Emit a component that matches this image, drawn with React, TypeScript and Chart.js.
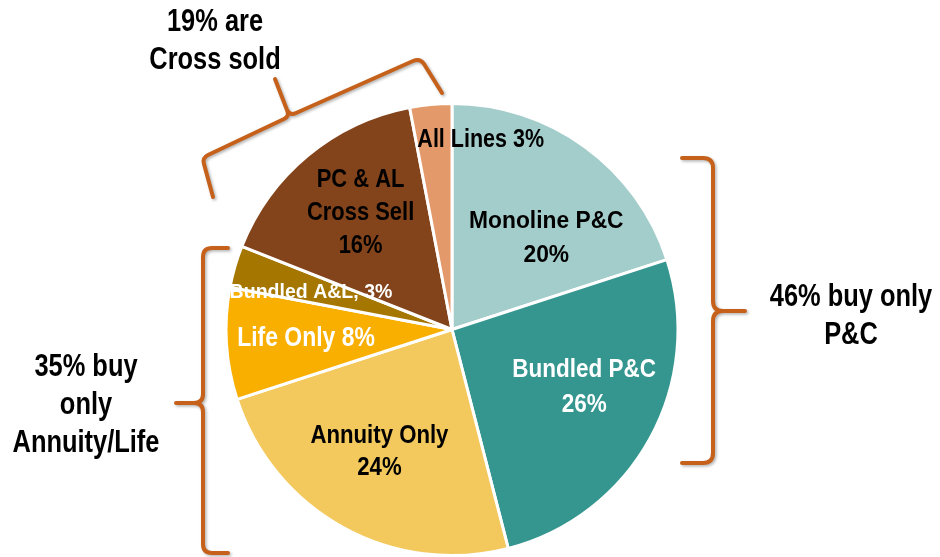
import React, { useEffect, useRef } from "react";
import { Chart, registerables } from "chart.js";

Chart.register(...registerables);

const categories = [
  "Monoline P&C",
  "Bundled P&C",
  "Annuity Only",
  "Life Only",
  "Bundled A&L",
  "PC & AL Cross Sell",
  "All Lines",
];
const shares = [20, 26, 24, 8, 3, 16, 3];
const sliceLabels: string[][] = [
  ["Monoline P&C", "20%"],
  ["Bundled P&C", "26%"],
  ["Annuity Only", "24%"],
  ["Life Only 8%"],
  ["Bundled A&L, 3%"],
  ["PC & AL", "Cross Sell", "16%"],
  ["All Lines 3%"],
];
const groupNotes: string[][] = [
  ["19% are", "Cross sold"],
  ["46% buy only", "P&C"],
  ["35% buy", "only", "Annuity/Life"],
];

const COLORS = ["#A3CDCA", "#35968F", "#F3C85C", "#F8AF00", "#A57700", "#84441B", "#E4996A"];
const LABEL_COLORS = ["#000", "#fff", "#000", "#fff", "#fff", "#000", "#000"];
// polar placement of labels: angle from 12 o'clock (deg), fraction of radius
const LABEL_ANGLE = [45.9, 113.7, 210.7, 266.5, 285.0, 321.8, 8.6];
const LABEL_RFRAC = [0.581, 0.639, 0.629, 0.647, 0.646, 0.654, 0.849];
const LABEL_SIZE = [24, 25, 25.5, 28, 21, 25.5, 25];
const LABEL_SX = [0.95, 0.9, 0.87, 0.82, 0.93, 0.86, 0.86];
const LABEL_LH = [34, 35, 32, 0, 0, 33, 0];
const FONT = "'Liberation Sans', Arial, sans-serif";
const BRACE = "#C5611B";

function drawText(ctx: CanvasRenderingContext2D, t: string, x: number, y: number, size: number, sx: number) {
  ctx.save();
  ctx.translate(x, y);
  ctx.scale(sx, 1);
  ctx.font = `bold ${size}px ${FONT}`;
  ctx.fillText(t, 0, 0);
  ctx.restore();
}

const overlayPlugin = {
  id: "overlay",
  afterDatasetsDraw(chart: any) {
    const ctx = chart.ctx as CanvasRenderingContext2D;
    const meta = chart.getDatasetMeta(0);
    const arc0 = meta.data[0] as any;
    const cx = arc0.x;
    const cy = arc0.y;
    const r = arc0.outerRadius;
    ctx.save();
    ctx.textAlign = "center";
    ctx.textBaseline = "middle";
    sliceLabels.forEach((lines, i) => {
      const a = (LABEL_ANGLE[i] * Math.PI) / 180;
      const x = cx + r * LABEL_RFRAC[i] * Math.sin(a);
      const y = cy - r * LABEL_RFRAC[i] * Math.cos(a);
      ctx.fillStyle = LABEL_COLORS[i];
      const lh = LABEL_LH[i];
      const y0 = y - ((lines.length - 1) * lh) / 2;
      lines.forEach((t, j) => drawText(ctx, t, x, y0 + j * lh, LABEL_SIZE[i], LABEL_SX[i]));
    });

    // group notes
    ctx.fillStyle = "#000";
    const notePos = [
      [215, 41],
      [851, 316],
      [86, 405],
    ];
    groupNotes.forEach((lines, i) => {
      const lh = 38;
      const y0 = notePos[i][1] - ((lines.length - 1) * lh) / 2;
      lines.forEach((t, j) => drawText(ctx, t, notePos[i][0], y0 + j * lh, 31, 0.82));
    });

    // braces
    ctx.strokeStyle = BRACE;
    ctx.lineWidth = 4;
    ctx.lineCap = "round";
    ctx.lineJoin = "round";
    ctx.shadowColor = "rgba(0,0,0,0.3)";
    ctx.shadowBlur = 3;
    ctx.shadowOffsetX = 1.5;
    ctx.shadowOffsetY = 1.5;

    // right brace
    ctx.beginPath();
    ctx.moveTo(682, 158);
    ctx.lineTo(703, 158);
    ctx.quadraticCurveTo(713, 158, 713, 168);
    ctx.lineTo(713, 301);
    ctx.quadraticCurveTo(713, 311, 723, 311);
    ctx.lineTo(745, 311);
    ctx.moveTo(723, 311);
    ctx.quadraticCurveTo(713, 311, 713, 321);
    ctx.lineTo(713, 453);
    ctx.quadraticCurveTo(713, 463, 703, 463);
    ctx.lineTo(682, 463);
    ctx.stroke();

    // left brace
    ctx.beginPath();
    ctx.moveTo(228, 248);
    ctx.lineTo(212, 248);
    ctx.quadraticCurveTo(203, 248, 203, 257);
    ctx.lineTo(203, 394);
    ctx.quadraticCurveTo(203, 403, 194, 403);
    ctx.lineTo(176, 403);
    ctx.moveTo(194, 403);
    ctx.quadraticCurveTo(203, 403, 203, 412);
    ctx.lineTo(203, 544);
    ctx.quadraticCurveTo(203, 553, 212, 553);
    ctx.lineTo(228, 553);
    ctx.stroke();

    // top (tilted) brace
    ctx.beginPath();
    ctx.moveTo(213, 197);
    ctx.lineTo(204, 164);
    ctx.quadraticCurveTo(202, 158, 208, 155);
    ctx.lineTo(284, 119);
    ctx.quadraticCurveTo(290, 116, 287, 110);
    ctx.lineTo(275, 79);
    ctx.moveTo(287, 110);
    ctx.quadraticCurveTo(290, 116, 296, 113);
    ctx.lineTo(413, 61);
    ctx.quadraticCurveTo(420, 58, 424, 64);
    ctx.lineTo(442, 93);
    ctx.stroke();
    ctx.restore();
  },
};

export default function App() {
  const ref = useRef<HTMLCanvasElement | null>(null);
  useEffect(() => {
    document.body.style.margin = "0";
    if (!ref.current) return;
    const chart = new Chart(ref.current, {
      type: "pie",
      data: {
        labels: categories,
        datasets: [
          {
            data: shares,
            backgroundColor: COLORS,
            borderColor: "#ffffff",
            borderWidth: 3,
          },
        ],
      },
      options: {
        animation: false,
        responsive: false,
        events: [],
        layout: { padding: { left: 223, right: 259, top: 102, bottom: -3 } },
        plugins: {
          legend: { display: false },
          tooltip: { enabled: false },
          title: { display: false },
        },
      },
      plugins: [overlayPlugin],
    });
    return () => chart.destroy();
  }, []);
  return (
    <div style={{ position: "absolute", left: 0, top: 0, width: 940, height: 557, background: "#fff" }}>
      <canvas ref={ref} width={940} height={557} style={{ display: "block" }} />
    </div>
  );
}
